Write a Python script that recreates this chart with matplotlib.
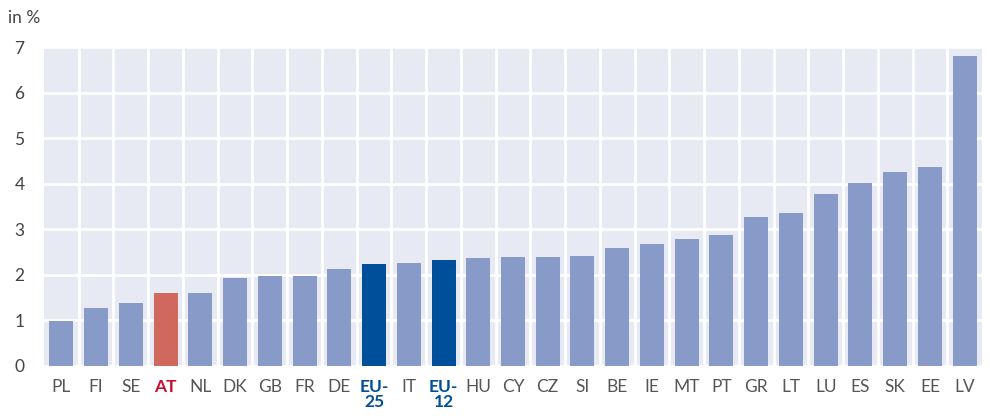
import numpy as np
import matplotlib.pyplot as plt

countries = ["PL", "FI", "SE", "AT", "NL", "DK", "GB", "FR", "DE", "EU-\n25", "IT", "EU-\n12",
             "HU", "CY", "CZ", "SI", "BE", "IE", "MT", "PT", "GR", "LT", "LU", "ES", "SK", "EE", "LV"]
values = [0.99, 1.27, 1.38, 1.60, 1.60, 1.93, 1.97, 1.97, 2.13, 2.24, 2.26, 2.32,
          2.37, 2.40, 2.40, 2.42, 2.59, 2.68, 2.79, 2.88, 3.27, 3.36, 3.78, 4.02, 4.26, 4.37, 6.81]
yticks = [0, 1, 2, 3, 4, 5, 6, 7]

base = "#889bc8"
at_col = "#d0685e"
eu_col = "#004f9a"

colors = []
for c in countries:
    if c == "AT":
        colors.append(at_col)
    elif c.startswith("EU"):
        colors.append(eu_col)
    else:
        colors.append(base)

plt.rcParams['font.family'] = ['Lato', 'DejaVu Sans']

fig = plt.figure(figsize=(9.9, 4.18), dpi=100)
ax = fig.add_axes([44 / 990, 1 - 366 / 418, (982 - 44) / 990, (366 - 47) / 418])
ax.set_facecolor("#e8eaf3")

x = np.arange(len(countries))
ax.bar(x, values, width=0.69, color=colors, zorder=3)

ax.set_xlim(-0.5, len(countries) - 0.5)
ax.set_ylim(0, 7)
ax.set_yticks(yticks)
ax.set_yticklabels([str(t) for t in yticks], fontsize=12.5, color="#444444")
ax.set_xticks(x)
ax.set_xticklabels(countries, fontsize=12.5, color="#555555", linespacing=0.95, va="top")
ax.set_xticks(x[:-1] + 0.5, minor=True)

for lbl, c in zip(ax.get_xticklabels(), countries):
    if c == "AT":
        lbl.set_color("#c8102e")
        lbl.set_fontweight("bold")
    elif c.startswith("EU"):
        lbl.set_color(eu_col)
        lbl.set_fontweight("bold")

ax.grid(axis="y", which="major", color="white", linewidth=2, zorder=1)
ax.grid(axis="x", which="minor", color="white", linewidth=2, zorder=1)
ax.tick_params(axis="both", which="both", length=0)
ax.tick_params(axis="x", pad=9)
ax.tick_params(axis="y", pad=14)
for s in ax.spines.values():
    s.set_visible(False)

fig.text(8 / 990, 1 - 18 / 418, "in %", fontsize=12.5, color="#444444", va="center", ha="left")

fig.savefig("out.png", dpi=100)
